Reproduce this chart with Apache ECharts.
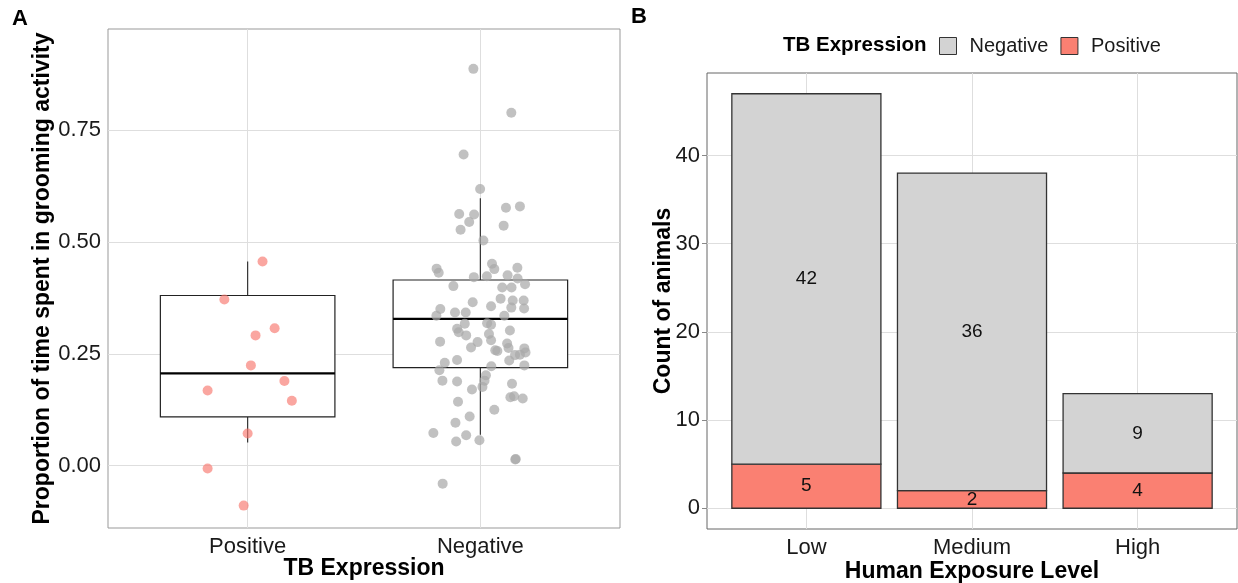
<!DOCTYPE html>
<html>
<head>
<meta charset="utf-8">
<script src="https://cdn.jsdelivr.net/npm/echarts@6.0.0/dist/echarts.min.js"></script>
<style>
  html, body { margin: 0; padding: 0; background: #fff; }
  #main { width: 1238px; height: 583px; }
</style>
</head>
<body>
<div id="main"></div>
<script>
// panel A: grooming proportion by TB expression (jittered points + boxplot)
const groupsA = ['Positive', 'Negative'];
const yTicksA = [0, 0.25, 0.5, 0.75];

const posX = [1.064, 0.900, 1.116, 1.034, 1.014, 1.158, 0.828, 1.190, 1.000, 0.828, 0.983];
const posGroom = [0.456, 0.371, 0.307, 0.291, 0.224, 0.189, 0.168, 0.145, 0.072, -0.006, -0.089];

const negX = [1.970, 2.133, 1.928, 1.999, 1.909, 1.973, 2.110, 2.170, 1.952, 1.915,
  2.100, 2.013, 1.812, 1.821, 2.050, 2.060, 2.159, 1.972, 2.028, 2.117,
  2.160, 2.192, 1.884, 2.094, 2.134, 2.087, 2.139, 2.186, 1.967, 2.046,
  2.133, 2.188, 1.828, 1.811, 1.891, 1.937, 2.103, 1.933, 2.029, 2.046,
  1.900, 1.907, 1.939, 2.037, 2.127, 1.827, 1.988, 2.046, 1.960, 2.115,
  2.121, 2.064, 2.073, 2.189, 2.149, 2.170, 2.194, 1.900, 1.847, 2.124,
  2.047, 2.189, 1.824, 2.024, 1.837, 1.900, 2.018, 2.136, 2.009, 1.964,
  2.129, 2.145, 2.182, 1.904, 2.060, 1.954, 1.893, 1.798, 1.939, 1.896,
  1.996, 2.150, 2.152, 1.838];
const negGroom = [0.886, 0.788, 0.695, 0.618, 0.562, 0.561, 0.576, 0.579, 0.544, 0.527,
  0.536, 0.503, 0.440, 0.431, 0.451, 0.439, 0.442, 0.421, 0.423, 0.425,
  0.418, 0.405, 0.401, 0.398, 0.398, 0.373, 0.369, 0.369, 0.365, 0.356,
  0.353, 0.351, 0.350, 0.335, 0.342, 0.342, 0.335, 0.317, 0.318, 0.315,
  0.306, 0.298, 0.291, 0.294, 0.302, 0.277, 0.276, 0.280, 0.264, 0.273,
  0.263, 0.258, 0.256, 0.262, 0.247, 0.248, 0.253, 0.236, 0.230, 0.235,
  0.222, 0.224, 0.213, 0.202, 0.190, 0.188, 0.190, 0.183, 0.176, 0.170,
  0.153, 0.155, 0.150, 0.143, 0.125, 0.110, 0.096, 0.073, 0.068, 0.054,
  0.057, 0.014, 0.015, -0.040];

// lower whisker, Q1, median, Q3, upper whisker
const boxPositive = [0.052, 0.109, 0.206, 0.380, 0.456];
const boxNegative = [0.069, 0.219, 0.328, 0.4146, 0.597];

// panel B: counts by human exposure level
const levels = ['Low', 'Medium', 'High'];
const negCounts = [42, 36, 9];
const posCounts = [5, 2, 4];
const yTicksB = [0, 10, 20, 30, 40];

const FONT = '"Liberation Sans", Arial, sans-serif';
const gridLine = { color: '#dedede', width: 1, type: 'solid' };

function renderBox(params, api) {
    const x = api.value(0);
    const half = 0.375;
    const tl = api.coord([x - half, api.value(4)]);
    const br = api.coord([x + half, api.value(2)]);
    const med = api.coord([x, api.value(3)]);
    const hi = api.coord([x, api.value(5)]);
    const lo = api.coord([x, api.value(1)]);
    const line = { stroke: '#333', lineWidth: 1.2 };
    return {
        type: 'group',
        children: [
            { type: 'line', shape: { x1: hi[0], y1: hi[1], x2: hi[0], y2: tl[1] }, style: line },
            { type: 'line', shape: { x1: lo[0], y1: br[1], x2: lo[0], y2: lo[1] }, style: line },
            { type: 'rect', shape: { x: tl[0], y: tl[1], width: br[0] - tl[0], height: br[1] - tl[1] },
              style: { fill: '#fff', stroke: '#222', lineWidth: 1.2 } },
            { type: 'line', shape: { x1: tl[0], y1: med[1], x2: br[0], y2: med[1] },
              style: { stroke: '#000', lineWidth: 2.2 } }
        ]
    };
}

// stacked bar segment: [x, from, to, count]
function renderBar(fill) {
    return function (params, api) {
        const x = api.value(0);
        const half = 0.45;
        const p1 = api.coord([x - half, api.value(2)]);
        const p2 = api.coord([x + half, api.value(1)]);
        const c = api.coord([x, (api.value(1) + api.value(2)) / 2]);
        return {
            type: 'group',
            children: [
                { type: 'rect', shape: { x: p1[0], y: p1[1], width: p2[0] - p1[0], height: p2[1] - p1[1] },
                  style: { fill: fill, stroke: '#333', lineWidth: 1.3 } },
                { type: 'text', style: { text: String(api.value(3)), x: c[0], y: c[1], align: 'center',
                  verticalAlign: 'middle', fill: '#111', font: '19px ' + FONT } }
            ]
        };
    };
}

const boxData = [[1].concat(boxPositive), [2].concat(boxNegative)];
const posPts = posX.map((x, i) => [x, posGroom[i]]);
const negPts = negX.map((x, i) => [x, negGroom[i]]);
const posBars = posCounts.map((v, i) => [i + 1, 0, v, v]);
const negBars = negCounts.map((v, i) => [i + 1, posCounts[i], posCounts[i] + v, v]);

const gridLinesA = yTicksA.map(v => ({ yAxis: v })).concat(groupsA.map((g, i) => ({ xAxis: i + 1 })));
const gridLinesB = yTicksB.map(v => ({ yAxis: v })).concat(levels.map((g, i) => ({ xAxis: i + 1 })));

const tickLabel = { color: '#1a1a1a', fontSize: 22, fontFamily: FONT };
const axisTitle = { color: '#000', fontSize: 23, fontWeight: 'bold', fontFamily: FONT };

let myChart = echarts.init(document.getElementById('main'));
let option = {
    animation: false,
    textStyle: { fontFamily: FONT },
    grid: [
        { left: 108, top: 29, width: 512, height: 499, show: true, borderColor: '#999', borderWidth: 1,
          containLabel: false, outerBoundsMode: 'none' },
        { left: 707, top: 73, width: 530, height: 456, show: true, borderColor: '#666', borderWidth: 1,
          containLabel: false, outerBoundsMode: 'none' }
    ],
    xAxis: [
        {
            gridIndex: 0, type: 'value', min: 0.4, max: 2.6,
            axisLine: { show: false }, axisTick: { show: false }, splitLine: { show: false },
            axisLabel: Object.assign({ customValues: [1, 2], margin: 8,
                formatter: v => groupsA[Math.round(v) - 1] }, tickLabel),
            name: 'TB Expression', nameLocation: 'middle', nameGap: 29, nameMoveOverlap: false,
            nameTextStyle: axisTitle
        },
        {
            gridIndex: 1, type: 'value', min: 0.4, max: 3.6,
            axisLine: { show: false }, splitLine: { show: false },
            axisTick: { show: true, customValues: [1, 2, 3], length: 5, lineStyle: { color: '#888' } },
            axisLabel: Object.assign({ customValues: [1, 2, 3], margin: 8,
                formatter: v => levels[Math.round(v) - 1] }, tickLabel),
            name: 'Human Exposure Level', nameLocation: 'middle', nameGap: 31, nameMoveOverlap: false,
            nameTextStyle: axisTitle
        }
    ],
    yAxis: [
        {
            gridIndex: 0, type: 'value', min: -0.139, max: 0.975,
            axisLine: { show: false }, axisTick: { show: false }, splitLine: { show: false },
            axisLabel: Object.assign({ customValues: yTicksA, margin: 7,
                formatter: v => v.toFixed(2) }, tickLabel),
            name: 'Proportion of time spent in grooming activity', nameLocation: 'middle',
            nameGap: 54, nameMoveOverlap: false, nameTextStyle: axisTitle
        },
        {
            gridIndex: 1, type: 'value', min: -2.35, max: 49.35,
            axisLine: { show: false }, splitLine: { show: false },
            axisTick: { show: true, customValues: yTicksB, length: 5, lineStyle: { color: '#888' } },
            axisLabel: Object.assign({ customValues: yTicksB, margin: 7 }, tickLabel),
            name: 'Count of animals', nameLocation: 'middle', nameGap: 32, nameMoveOverlap: false,
            nameTextStyle: axisTitle
        }
    ],
    legend: {
        left: 939, top: 36, padding: 0, itemWidth: 17, itemHeight: 17, itemGap: 12, icon: 'rect',
        textStyle: { fontSize: 20, color: '#1a1a1a', padding: [0, 0, 0, 8] },
        data: [
            { name: 'Negative', itemStyle: { color: '#d3d3d3', borderColor: '#333', borderWidth: 1 } },
            { name: 'Positive', itemStyle: { color: '#fa8072', borderColor: '#333', borderWidth: 1 } }
        ],
        selectedMode: false
    },
    graphic: [
        { type: 'text', left: 12, top: 8, style: { text: 'A', font: 'bold 22px ' + FONT, fill: '#000' } },
        { type: 'text', left: 631, top: 6, style: { text: 'B', font: 'bold 22px ' + FONT, fill: '#000' } },
        { type: 'text', left: 783, top: 35, style: { text: 'TB Expression', font: 'bold 20.5px ' + FONT, fill: '#000' } }
    ],
    series: [
        {
            type: 'custom', name: 'box', xAxisIndex: 0, yAxisIndex: 0, z: 3,
            renderItem: renderBox, data: boxData,
            markLine: { silent: true, symbol: 'none', z: 1, label: { show: false },
                lineStyle: gridLine, data: gridLinesA }
        },
        {
            type: 'scatter', name: 'ptsPositive', xAxisIndex: 0, yAxisIndex: 0, z: 4,
            symbolSize: 10, itemStyle: { color: '#f8766d', opacity: 0.65 }, data: posPts
        },
        {
            type: 'scatter', name: 'ptsNegative', xAxisIndex: 0, yAxisIndex: 0, z: 4,
            symbolSize: 10, itemStyle: { color: '#a9a9a9', opacity: 0.72 }, data: negPts
        },
        {
            type: 'custom', name: 'Positive', xAxisIndex: 1, yAxisIndex: 1, z: 3,
            itemStyle: { color: '#fa8072' }, renderItem: renderBar('#fa8072'), data: posBars,
            markLine: { silent: true, symbol: 'none', z: 1, label: { show: false },
                lineStyle: gridLine, data: gridLinesB }
        },
        {
            type: 'custom', name: 'Negative', xAxisIndex: 1, yAxisIndex: 1, z: 3,
            itemStyle: { color: '#d3d3d3' }, renderItem: renderBar('#d3d3d3'), data: negBars
        }
    ]
};

option && myChart.setOption(option);
</script>
</body>
</html>
